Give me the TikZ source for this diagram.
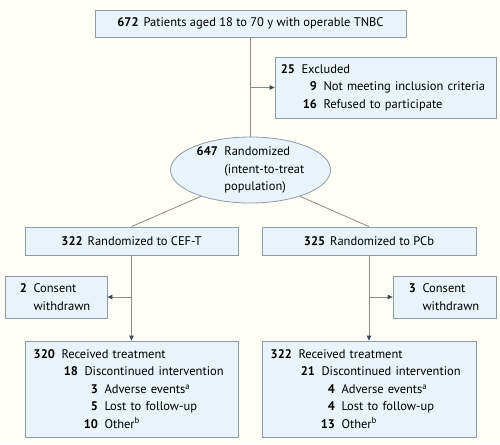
\documentclass[tikz,border=0pt]{standalone}
\usepackage{fontspec}
\setmainfont{PT Sans}
\usetikzlibrary{shapes.geometric,arrows.meta}
\definecolor{bg}{HTML}{FFFEF6}
\definecolor{boxfill}{HTML}{E9F3F9}
\definecolor{boxline}{HTML}{8E9CA8}
\definecolor{conn}{HTML}{8A8A8A}
\definecolor{tipc}{HTML}{404A52}
\newcommand{\nm}[1]{\textbf{#1}}
\newcommand{\rw}[3]{\hspace*{#1}\llap{\nm{#2}}\hspace{6.5pt}#3}
\begin{document}
\begin{tikzpicture}[x=1pt,y=-1pt,
  every node/.style={font=\fontsize{12.5}{17.4}\selectfont},
  box/.style={draw=boxline,fill=boxfill,line width=0.8pt,inner sep=0pt,align=left},
  ell/.style={ellipse,draw=boxline,fill=boxfill,line width=0.8pt,inner sep=0pt,align=left,minimum width=160pt,minimum height=66pt},
  conn/.style={draw=conn,line width=0.8pt},
  arr/.style={conn,-{Triangle[length=5pt,width=4.5pt,fill=tipc,color=tipc]}}]
\useasboundingbox[fill=bg] (0,0) rectangle (500,444);
% top
\node[box,minimum width=311pt,minimum height=27pt,align=center] (top) at (250.5,23.5) {\nm{672}\hspace{5pt}Patients aged 18 to 70 y with operable TNBC};
% excluded
\node[box,text width=221pt,minimum height=61pt] (excl) at (385.5,87.5) {\rw{20pt}{25}{Excluded}\\\rw{42pt}{9}{Not meeting inclusion criteria}\\\rw{42pt}{16}{Refused to participate}};
% ellipse
\node[ell] (rand) at (250.5,170) {\nm{647}\hspace{6.5pt}Randomized\\\phantom{\nm{647}}\hspace{6.5pt}(intent-to-treat\\\phantom{\nm{647}}\hspace{6.5pt}population)};
% randomized arms
\node[box,minimum width=213pt,minimum height=28pt,align=center] (armA) at (131.5,241) {\nm{322}\hspace{5pt}Randomized to CEF-T};
\node[box,minimum width=214pt,minimum height=28pt,align=center] (armB) at (369,241) {\nm{325}\hspace{5pt}Randomized to PCb};
% consent boxes
\node[box,text width=102pt,minimum height=42pt] (consA) at (56,297) {\rw{22pt}{2}{Consent}\\\hspace*{28.5pt}withdrawn};
\node[box,text width=103pt,minimum height=42pt] (consB) at (444.5,297) {\rw{23pt}{3}{Consent}\\\hspace*{29.5pt}withdrawn};
% treatment boxes
\node[box,text width=213pt,minimum height=96pt] (treatA) at (131.5,389) {\rw{30pt}{320}{Received treatment}\\\rw{53pt}{18}{Discontinued intervention}\\\rw{73pt}{3}{Adverse events\textsuperscript{a}}\\\rw{73pt}{5}{Lost to follow-up}\\\rw{73pt}{10}{Other\textsuperscript{b}}};
\node[box,text width=214pt,minimum height=96pt] (treatB) at (369,389) {\rw{30pt}{322}{Received treatment}\\\rw{53pt}{21}{Discontinued intervention}\\\rw{73pt}{4}{Adverse events\textsuperscript{a}}\\\rw{73pt}{4}{Lost to follow-up}\\\rw{73pt}{13}{Other\textsuperscript{b}}};
% connectors
\coordinate (j1) at (top.south |- excl.west);
\coordinate (j2) at (armA.south |- consA.east);
\coordinate (j3) at (armB.south |- consB.west);
\draw[conn] (top.south) -- (rand.north);
\draw[arr] (j1) -- (excl.west);
\draw[conn] (rand.208) -- (armA.north);
\draw[conn] (rand.332) -- (armB.north);
\draw[arr] (armA.south) -- (treatA.north);
\draw[arr] (armB.south) -- (treatB.north);
\draw[arr] (j2) -- (consA.east);
\draw[arr] (j3) -- (consB.west);
\end{tikzpicture}
\end{document}
